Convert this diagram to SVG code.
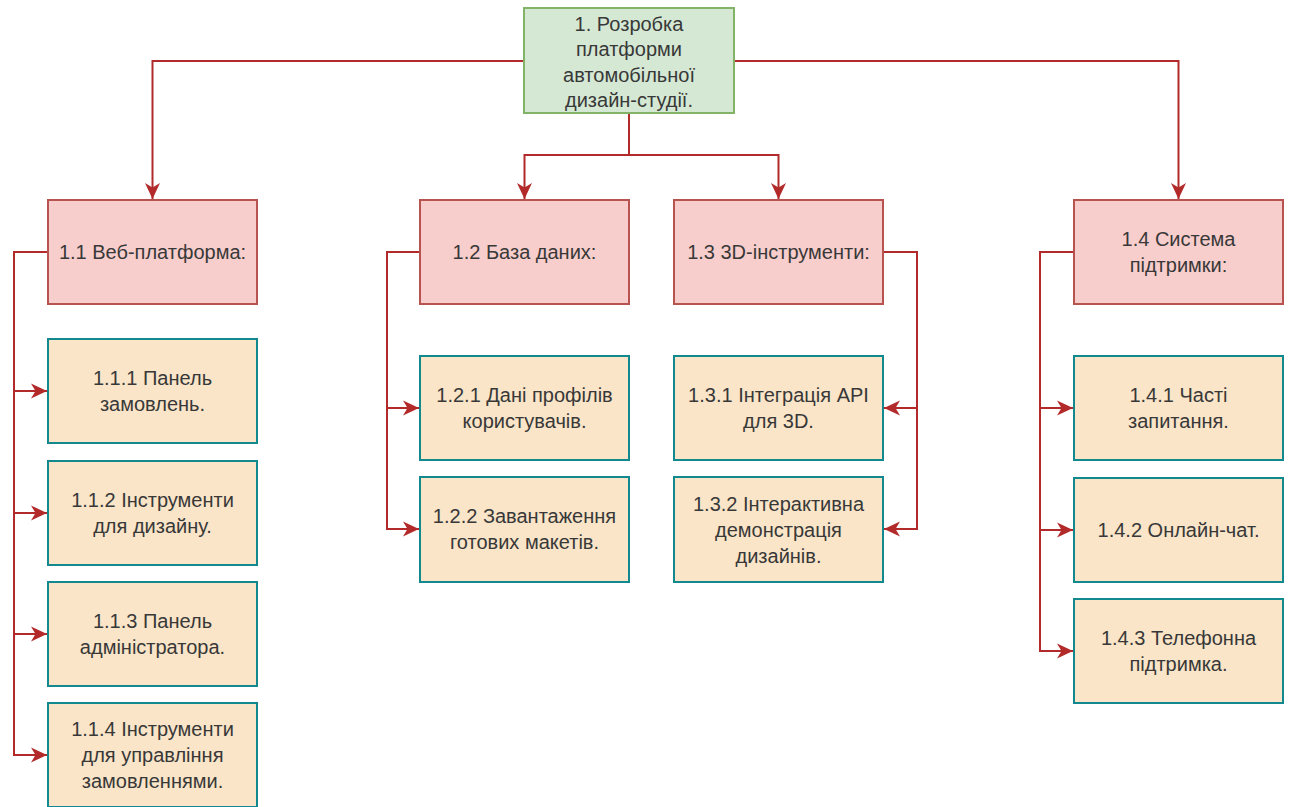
<svg xmlns="http://www.w3.org/2000/svg" width="1294" height="807" viewBox="0 0 1294 807">
  <style>
    .root rect { fill: #d5e8d4; stroke: #82b366; stroke-width: 2; }
    .lvl1 rect { fill: #f8cecc; stroke: #b85450; stroke-width: 2; }
    .lvl2 rect { fill: #fae5c8; stroke: #12898f; stroke-width: 2; }
    text { font-family: "Liberation Sans", Arial, sans-serif; font-size: 20px; fill: #383838; text-anchor: middle; }
    .edges path { fill: none; stroke: #b22a2a; stroke-width: 2; marker-end: url(#arrow); }
  </style>
  <defs>
    <marker id="arrow" markerUnits="userSpaceOnUse" markerWidth="18" markerHeight="18" refX="17" refY="9" orient="auto">
      <path d="M17,9 L1,1.5 L5.5,9 L1,16.5 Z" fill="#b22a2a" stroke="none"/>
    </marker>
  </defs>

  <rect width="1294" height="807" fill="#ffffff"/>

  <!-- connectors -->
  <g class="edges">
    <path d="M524 61 H152.5 V199"/>
    <path d="M734 61 H1178.5 V199"/>
    <path d="M629 113 V155 H524.5 V199"/>
    <path d="M629 113 V155 H778.5 V199"/>

    <path d="M48 252 H14 V391 H47"/>
    <path d="M48 252 H14 V513 H47"/>
    <path d="M48 252 H14 V634 H47"/>
    <path d="M48 252 H14 V755 H47"/>

    <path d="M420 252 H387 V408 H419"/>
    <path d="M420 252 H387 V529 H419"/>

    <path d="M883 252 H917 V408 H884"/>
    <path d="M883 252 H917 V529 H884"/>

    <path d="M1074 252 H1040 V408 H1073"/>
    <path d="M1074 252 H1040 V530 H1073"/>
    <path d="M1074 252 H1040 V651 H1073"/>
  </g>

  <!-- root -->
  <g id="n1" class="root">
    <rect x="524" y="8" width="210" height="105"/>
    <text x="629" y="31">1. Розробка</text>
    <text x="629" y="56">платформи</text>
    <text x="629" y="82">автомобільної</text>
    <text x="629" y="107">дизайн-студії.</text>
  </g>

  <!-- level 1 -->
  <g id="n1-1" class="lvl1">
    <rect x="48" y="200" width="209" height="104"/>
    <text x="152.5" y="259">1.1 Веб-платформа:</text>
  </g>
  <g id="n1-2" class="lvl1">
    <rect x="420" y="200" width="209" height="104"/>
    <text x="524.5" y="259">1.2 База даних:</text>
  </g>
  <g id="n1-3" class="lvl1">
    <rect x="674" y="200" width="209" height="104"/>
    <text x="778.5" y="259">1.3 3D-інструменти:</text>
  </g>
  <g id="n1-4" class="lvl1">
    <rect x="1074" y="200" width="209" height="104"/>
    <text x="1178.5" y="246">1.4 Система</text>
    <text x="1178.5" y="272">підтримки:</text>
  </g>

  <!-- 1.1 children -->
  <g id="n1-1-1" class="lvl2">
    <rect x="48" y="339" width="209" height="104"/>
    <text x="152.5" y="385">1.1.1 Панель</text>
    <text x="152.5" y="411">замовлень.</text>
  </g>
  <g id="n1-1-2" class="lvl2">
    <rect x="48" y="461" width="209" height="104"/>
    <text x="152.5" y="507">1.1.2 Інструменти</text>
    <text x="152.5" y="533">для дизайну.</text>
  </g>
  <g id="n1-1-3" class="lvl2">
    <rect x="48" y="582" width="209" height="104"/>
    <text x="152.5" y="628">1.1.3 Панель</text>
    <text x="152.5" y="654">адміністратора.</text>
  </g>
  <g id="n1-1-4" class="lvl2">
    <rect x="48" y="703" width="209" height="104"/>
    <text x="152.5" y="736">1.1.4 Інструменти</text>
    <text x="152.5" y="762">для управління</text>
    <text x="152.5" y="788">замовленнями.</text>
  </g>

  <!-- 1.2 children -->
  <g id="n1-2-1" class="lvl2">
    <rect x="420" y="356" width="209" height="104"/>
    <text x="524.5" y="402">1.2.1 Дані профілів</text>
    <text x="524.5" y="428">користувачів.</text>
  </g>
  <g id="n1-2-2" class="lvl2">
    <rect x="420" y="477" width="209" height="105"/>
    <text x="524.5" y="523">1.2.2 Завантаження</text>
    <text x="524.5" y="549">готових макетів.</text>
  </g>

  <!-- 1.3 children -->
  <g id="n1-3-1" class="lvl2">
    <rect x="674" y="356" width="209" height="104"/>
    <text x="778.5" y="402">1.3.1 Інтеграція API</text>
    <text x="778.5" y="428">для 3D.</text>
  </g>
  <g id="n1-3-2" class="lvl2">
    <rect x="674" y="477" width="209" height="105"/>
    <text x="778.5" y="511">1.3.2 Інтерактивна</text>
    <text x="778.5" y="537">демонстрація</text>
    <text x="778.5" y="563">дизайнів.</text>
  </g>

  <!-- 1.4 children -->
  <g id="n1-4-1" class="lvl2">
    <rect x="1074" y="356" width="209" height="104"/>
    <text x="1178.5" y="402">1.4.1 Часті</text>
    <text x="1178.5" y="428">запитання.</text>
  </g>
  <g id="n1-4-2" class="lvl2">
    <rect x="1074" y="478" width="209" height="104"/>
    <text x="1178.5" y="537">1.4.2 Онлайн-чат.</text>
  </g>
  <g id="n1-4-3" class="lvl2">
    <rect x="1074" y="599" width="209" height="104"/>
    <text x="1178.5" y="645">1.4.3 Телефонна</text>
    <text x="1178.5" y="671">підтримка.</text>
  </g>
</svg>
